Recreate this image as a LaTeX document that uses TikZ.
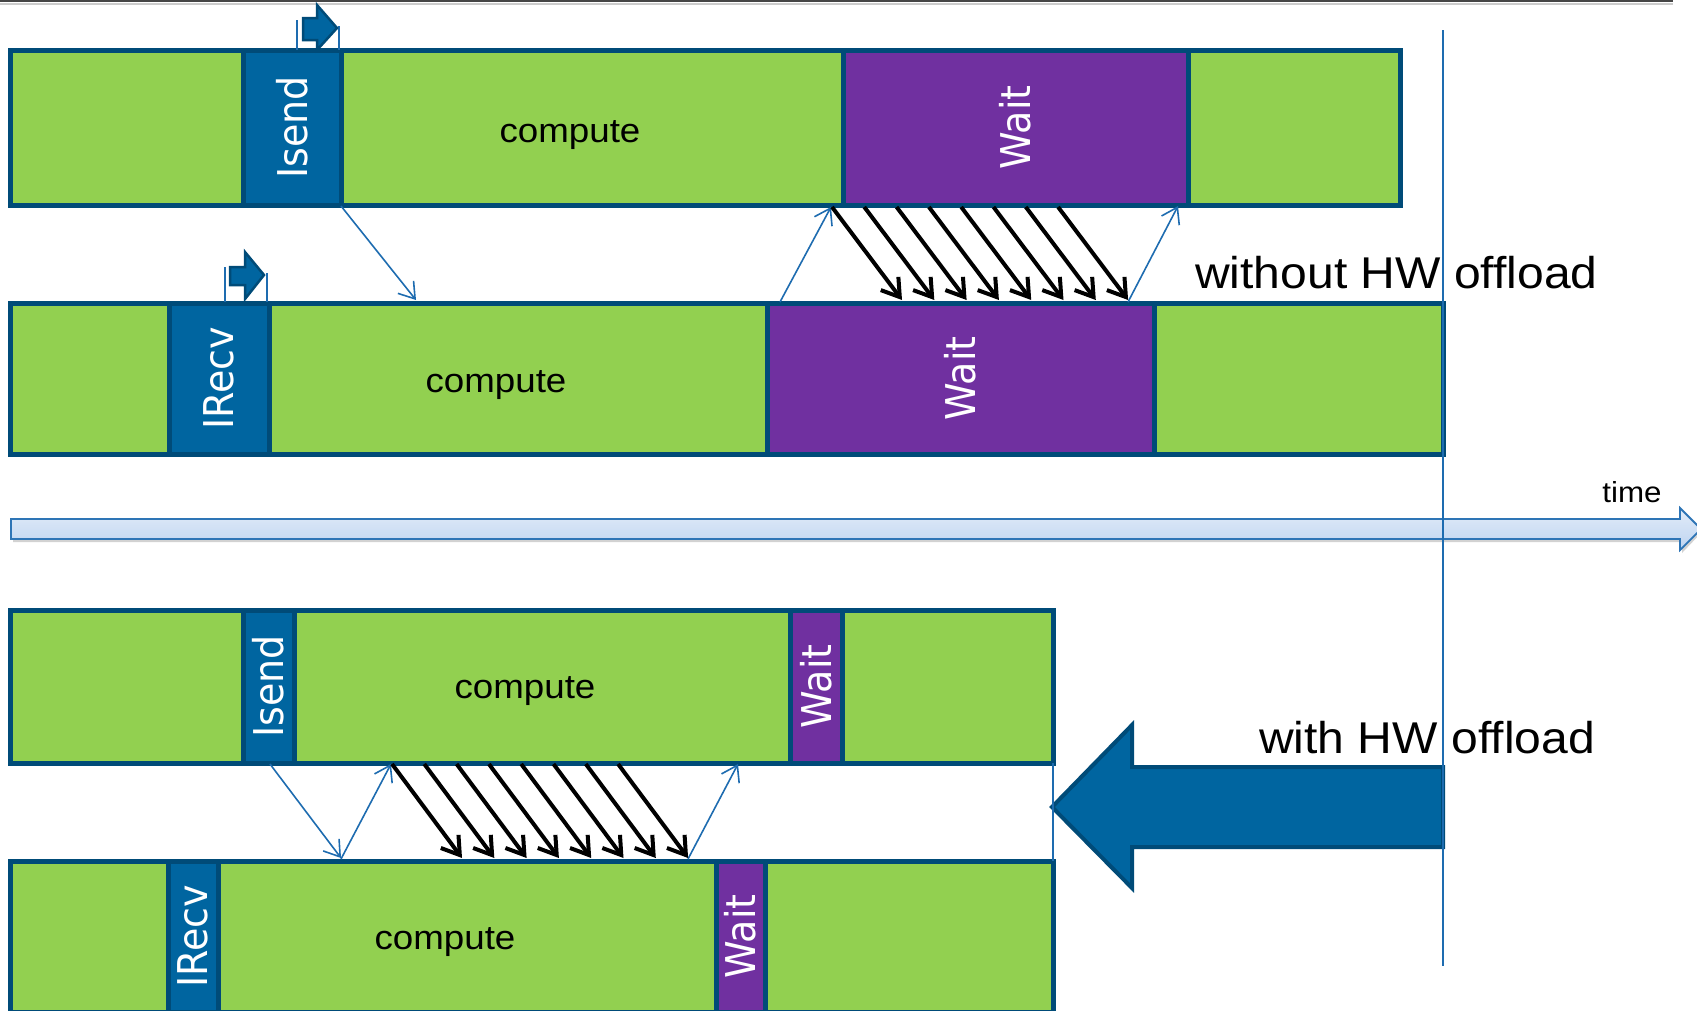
\documentclass[tikz,border=0pt]{standalone}
\usepackage{fontspec}
\setmainfont{Liberation Sans}
\newfontfamily\segfont{DejaVu Sans}
\usetikzlibrary{arrows.meta}

\definecolor{grn}{RGB}{146,208,80}
\definecolor{edge}{RGB}{0,75,120}
\definecolor{callblue}{RGB}{0,101,160}
\definecolor{waitpurple}{RGB}{112,48,160}
\definecolor{msgblue}{RGB}{30,108,176}
\definecolor{axistop}{RGB}{226,236,249}
\definecolor{axisbot}{RGB}{190,212,240}
\definecolor{axisedge}{RGB}{46,117,182}
\definecolor{rulegray}{RGB}{70,70,70}

% slightly widened lettering
\newcommand\widetext[1]{\scalebox{1.08}[1]{#1}}
\newcommand\talltext[1]{\scalebox{1}[1.08]{#1}}

\tikzset{
  seg/.style={draw=edge, line width=5pt, inner sep=0pt, outer sep=0pt, anchor=north west},
  greenseg/.style={seg, fill=grn},
  callseg/.style={seg, fill=callblue},
  waitseg/.style={seg, fill=waitpurple},
  vlabel/.style={rotate=90, text=white, inner sep=0pt, font=\segfont\fontsize{38}{40}\selectfont},
  clabel/.style={anchor=base, inner sep=0pt, font=\fontsize{34}{36}\selectfont},
  biglabel/.style={anchor=base west, inner sep=0pt, font=\fontsize{44.5}{46}\selectfont},
  msgarrow/.style={draw=msgblue, line width=1.6pt, -{Straight Barb[length=15pt,width=20pt]}},
  databurst/.style={draw=black, line width=4pt, -{Straight Barb[length=17pt,width=22pt]}},
  marker/.style={draw=msgblue, line width=1.6pt},
  blockarrow/.style={fill=callblue, draw=edge, line width=2.5pt, line join=miter},
}

\begin{document}
\begin{tikzpicture}[x=1pt, y=-1pt]
\useasboundingbox (0,0) rectangle (1697,1010);

% rule along the top
\draw[gray!40, line width=2pt] (0,3.5) -- (1673,3.5);
\draw[rulegray, line width=2.5pt] (0,1.2) -- (1673,1.2);

% ---------- without offload: sender ----------
\node[greenseg, minimum width=233pt, minimum height=155pt] (r1a) at (10,50) {};
\node[callseg,  minimum width=98pt,  minimum height=155pt] (r1s) at (243,50) {};
\node[greenseg, minimum width=502pt, minimum height=155pt] (r1c) at (341,50) {};
\node[waitseg,  minimum width=345pt, minimum height=155pt] (r1w) at (843,50) {};
\node[greenseg, minimum width=212pt, minimum height=155pt] (r1e) at (1188,50) {};
\node[vlabel] (t1s) at (r1s.center) {\talltext{Isend}};
\node[vlabel] (t1w) at (r1w.center) {\talltext{Wait}};
\node[clabel] (t1c) at (570,142) {\widetext{compute}};

% ---------- without offload: receiver ----------
\node[greenseg, minimum width=159pt, minimum height=151pt] (r2a) at (10,303) {};
\node[callseg,  minimum width=100pt, minimum height=151pt] (r2r) at (169,303) {};
\node[greenseg, minimum width=498pt, minimum height=151pt] (r2c) at (269,303) {};
\node[waitseg,  minimum width=387pt, minimum height=151pt] (r2w) at (767,303) {};
\node[greenseg, minimum width=289pt, minimum height=151pt] (r2e) at (1154,303) {};
\node[vlabel] (t2r) at (r2r.center) {\talltext{IRecv}};
\node[vlabel] (t2w) at (r2w.center) {\talltext{Wait}};
\node[clabel] (t2c) at (496,392) {\widetext{compute}};

% ---------- with offload: sender ----------
\node[greenseg, minimum width=233pt, minimum height=153pt] (r3a) at (10,610) {};
\node[callseg,  minimum width=51pt,  minimum height=153pt] (r3s) at (243,610) {};
\node[greenseg, minimum width=496pt, minimum height=153pt] (r3c) at (294,610) {};
\node[waitseg,  minimum width=52pt,  minimum height=153pt] (r3w) at (790,610) {};
\node[greenseg, minimum width=211pt, minimum height=153pt] (r3e) at (842,610) {};
\node[vlabel] (t3s) at (r3s.center) {\talltext{Isend}};
\node[vlabel] (t3w) at (r3w.center) {\talltext{Wait}};
\node[clabel] (t3c) at (525,698) {\widetext{compute}};

% ---------- with offload: receiver ----------
\node[greenseg, minimum width=158pt, minimum height=151pt] (r4a) at (10,861) {};
\node[callseg,  minimum width=50pt,  minimum height=151pt] (r4r) at (168,861) {};
\node[greenseg, minimum width=498pt, minimum height=151pt] (r4c) at (218,861) {};
\node[waitseg,  minimum width=49pt,  minimum height=151pt] (r4w) at (716,861) {};
\node[greenseg, minimum width=288pt, minimum height=151pt] (r4e) at (765,861) {};
\node[vlabel] (t4r) at (r4r.center) {\talltext{IRecv}};
\node[vlabel] (t4w) at (r4w.center) {\talltext{Wait}};
\node[clabel] (t4c) at (445,949) {\widetext{compute}};

% small "post" arrows above the nonblocking calls
\draw[marker] (297,20) -- (297,50);
\draw[marker] (339,26) -- (339,50);
\draw[blockarrow] (303,18) -- (317,18) -- (317,5) -- (337,28) -- (317,50) -- (317,40) -- (303,40) -- cycle;
\draw[marker] (225,267) -- (225,302);
\draw[marker] (267,273) -- (267,302);
\draw[blockarrow] (230,267) -- (245,267) -- (245,252) -- (264,275) -- (245,299) -- (245,285) -- (230,285) -- cycle;

% handshake messages (without offload)
\coordinate (h1a) at (341,206);  \coordinate (h1b) at (416,300);
\coordinate (h2a) at (780,302);  \coordinate (h2b) at (831,207);
\coordinate (h3a) at (1128,302); \coordinate (h3b) at (1178,206);
\draw[msgarrow] (h1a) -- (h1b);
\draw[msgarrow] (h2a) -- (h2b);
\draw[msgarrow] (h3a) -- (h3b);

% data transfer (without offload)
\foreach \i in {0,...,7}{
  \coordinate (da\i) at ({832+32.3*\i},207);
  \coordinate (db\i) at ({902+32.3*\i},300);
  \draw[databurst] (da\i) -- (db\i);
}

% handshake messages (with offload)
\coordinate (h4a) at (270,764); \coordinate (h4b) at (341,858);
\coordinate (h5a) at (341,859); \coordinate (h5b) at (391,764);
\coordinate (h6a) at (688,859); \coordinate (h6b) at (738,764);
\draw[msgarrow] (h4a) -- (h4b);
\draw[msgarrow] (h5a) -- (h5b);
\draw[msgarrow] (h6a) -- (h6b);

% data transfer (with offload)
\foreach \i in {0,...,7}{
  \coordinate (ea\i) at ({392+32.3*\i},764);
  \coordinate (eb\i) at ({462+32.3*\i},858);
  \draw[databurst] (ea\i) -- (eb\i);
}

% time axis
\fill[gray!35] (13,522) -- (1682,522) -- (1682,511) -- (1702,532) -- (1682,553) -- (1682,542) -- (13,542) -- cycle;
\draw[draw=axisedge, line width=1.8pt, top color=axistop, bottom color=axisbot, line join=miter]
  (11,519) -- (1680,519) -- (1680,508) -- (1701,529) -- (1680,550) -- (1680,539) -- (11,539) -- cycle;
\node[anchor=base, inner sep=0pt, font=\fontsize{29}{31}\selectfont] (tlabel) at (1632,502) {\widetext{time}};

% gain from offloading
\draw[fill=callblue, draw=edge, line width=4pt, line join=miter]
  (1443,767) -- (1132,767) -- (1132,725) -- (1052,807) -- (1132,888) -- (1132,847) -- (1443,847) -- cycle;

% end-of-run markers
\coordinate (endtop) at (1443,30);
\coordinate (endbot) at (1443,966);
\draw[marker] (endtop) -- (endbot);
\draw[marker] (r3e.south east) -- (r4e.north east);

% captions
\node[biglabel] (wo) at (1195,288) {\widetext{without HW offload}};
\node[biglabel] (wi) at (1259,753) {\widetext{with HW offload}};
\end{tikzpicture}
\end{document}
